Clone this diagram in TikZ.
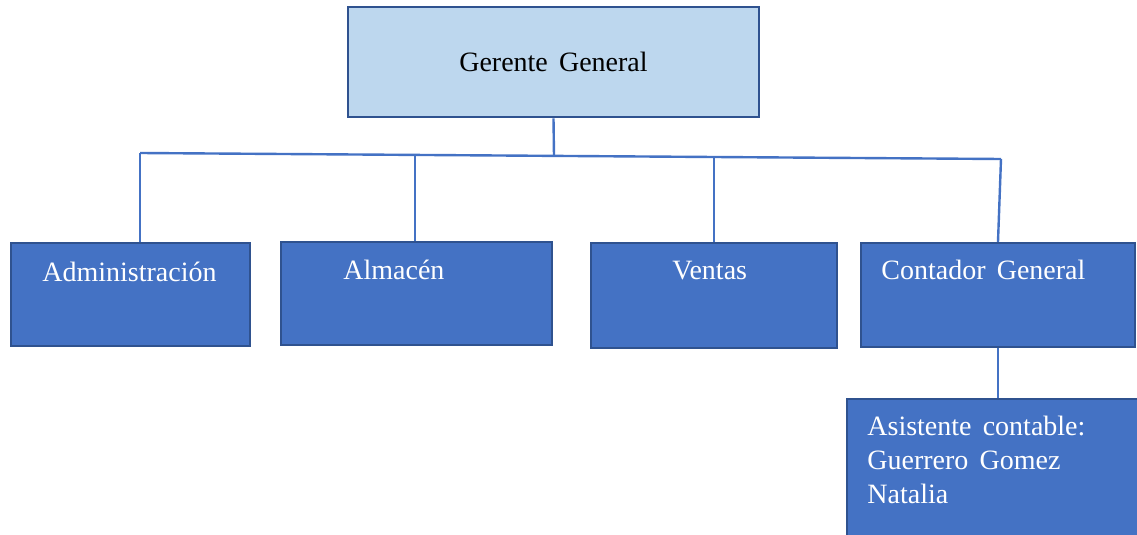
\documentclass[tikz,border=0pt]{standalone}
\usepackage{fontspec}
\setmainfont{Liberation Serif}
\definecolor{lightfill}{HTML}{BDD7EE}
\definecolor{boxfill}{HTML}{4472C4}
\definecolor{boxborder}{HTML}{2F528F}
\definecolor{linkcol}{HTML}{4472C4}
\newcommand{\wsp}{\hspace{0.4em}}
\tikzset{
  orgbox/.style={draw=boxborder, line width=1.2pt, fill=boxfill, inner sep=0pt},
  topbox/.style={draw=boxborder, line width=1.3pt, fill=lightfill, inner sep=0pt},
  wtext/.style={inner sep=0pt, text=white, font=\fontsize{14}{16.5}\selectfont},
  btext/.style={inner sep=0pt, text=black, font=\fontsize{14}{16.5}\selectfont},
  link/.style={draw=linkcol, line width=1.2pt}
}
\begin{document}
\begin{tikzpicture}[x=0.5pt, y=-0.5pt]
\useasboundingbox (0,0) rectangle (1137,535);
% boxes
\node[topbox, minimum width=205.5pt, minimum height=55pt] (top) at (553.5,62) {};
\node[orgbox, minimum width=119.5pt, minimum height=51.5pt] (adm) at (130.5,294.5) {};
\node[orgbox, minimum width=135.5pt, minimum height=51.5pt] (alm) at (416.5,293.5) {};
\node[orgbox, minimum width=123pt, minimum height=52.5pt] (ven) at (714,295.5) {};
\node[orgbox, minimum width=137pt, minimum height=52pt] (con) at (998,295) {};
\node[orgbox, minimum width=150pt, minimum height=73pt] (asi) at (997,472) {};
% texts
\node[btext, anchor=base] (ttop) at (553.5,72) {Gerente\wsp General};
\node[wtext, anchor=base west] (tadm) at (42,282) {Administración};
\node[wtext, anchor=base west] (talm) at (343,279) {Almacén};
\node[wtext, anchor=base west] (tven) at (672,279) {Ventas};
\node[wtext, anchor=base west] (tcon) at (881,279) {Contador\wsp General};
\node[wtext, anchor=base west] (tasi1) at (867,436) {Asistente\wsp contable:};
\node[wtext, anchor=base west] (tasi2) at (867,469) {Guerrero\wsp Gomez};
\node[wtext, anchor=base west] (tasi3) at (867,503) {Natalia};
% bar coordinates
\coordinate (bl) at (140,153);
\coordinate (b2) at (415,154.9);
\coordinate (bm) at (554,155.9);
\coordinate (b3) at (714,157);
\coordinate (br) at (1001,159);
% connectors
\draw[link] (top.south) -- (bm);
\draw[link] (bl) -- (br);
\draw[link] (bl) -- (bl |- adm.north);
\draw[link] (b2) -- (b2 |- alm.north);
\draw[link] (b3) -- (b3 |- ven.north);
\draw[link] (br) -- (con.north);
\draw[link] (con.south) -- (con.south |- asi.north);
\end{tikzpicture}
\end{document}
